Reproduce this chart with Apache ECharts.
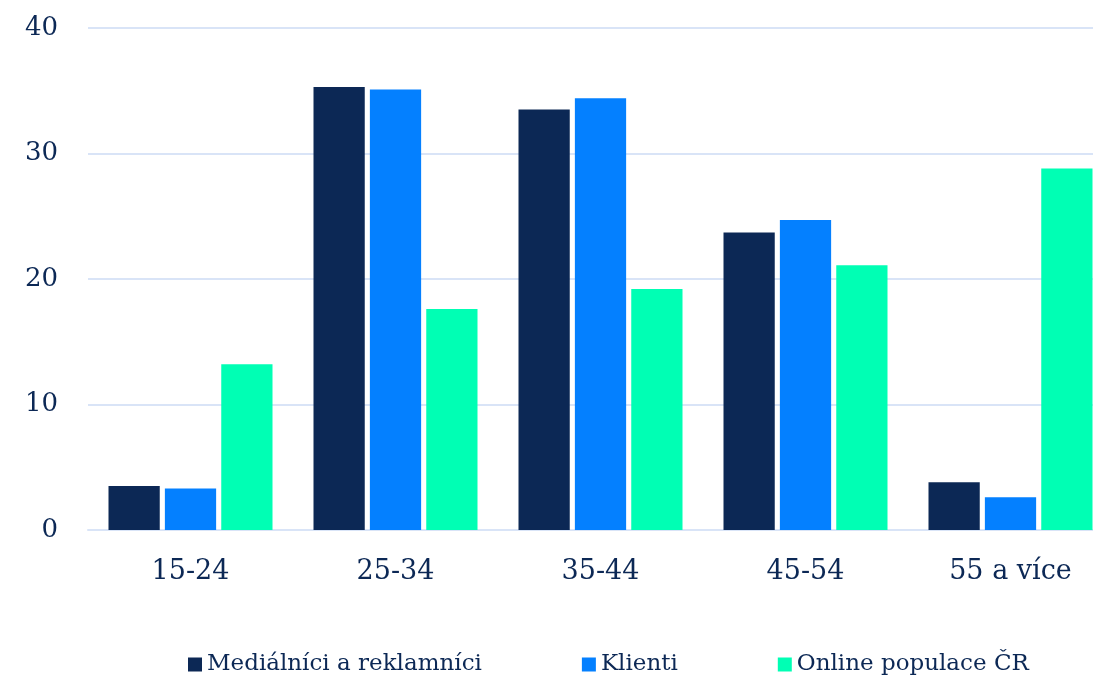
<!DOCTYPE html>
<html><head><meta charset="utf-8">
<script src="https://cdn.jsdelivr.net/npm/echarts@6/dist/echarts.min.js"></script>
<style>html,body{margin:0;padding:0;background:#fff}#c{width:1093px;height:681px}</style>
</head><body><div id="c"></div>
<script>
var categories = ['15-24', '25-34', '35-44', '45-54', '55 a více'];
var seriesNames = ['Mediálníci a reklamníci', 'Klienti', 'Online populace ČR'];
var medialnici = [3.5, 35.3, 33.5, 23.7, 3.8];
var klienti = [3.3, 35.1, 34.4, 24.7, 2.6];
var online = [13.2, 17.6, 19.2, 21.1, 28.8];
var colors = ['#0c2855', '#0480ff', '#00ffb4'];
var font = '"DejaVu Serif", Georgia, serif';
var textColor = '#0c2855';
var chart = echarts.init(document.getElementById('c'));
chart.setOption({
  animation: false,
  color: colors,
  textStyle: {fontFamily: font, color: textColor},
  grid: {left: 88, width: 1025, top: 28, bottom: 151, containLabel: false, outerBoundsMode: 'none'},
  legend: {
    bottom: 0, left: 183, itemGap: 100, itemWidth: 14, itemHeight: 14, icon: 'rect',
    textStyle: {fontFamily: font, fontSize: 23, color: textColor},
    data: seriesNames
  },
  xAxis: {
    type: 'category', data: categories,
    axisLine: {lineStyle: {color: '#d9e4f7', width: 2}},
    axisTick: {show: false},
    axisLabel: {fontFamily: font, fontSize: 27, color: textColor, margin: 28}
  },
  yAxis: {
    type: 'value', min: 0, max: 40, interval: 10,
    axisLine: {show: false}, axisTick: {show: false},
    splitLine: {lineStyle: {color: '#d9e4f7', width: 2}},
    axisLabel: {fontFamily: font, fontSize: 26, color: textColor, margin: 30, verticalAlign: 'middle', lineHeight: 26, padding: [8,0,0,0]}
  },
  series: [
    {name: seriesNames[0], type: 'bar', data: medialnici, barGap: '10%', barCategoryGap: '20%'},
    {name: seriesNames[1], type: 'bar', data: klienti, barGap: '10%', barCategoryGap: '20%'},
    {name: seriesNames[2], type: 'bar', data: online, barGap: '10%', barCategoryGap: '20%'}
  ]
});
</script></body></html>
